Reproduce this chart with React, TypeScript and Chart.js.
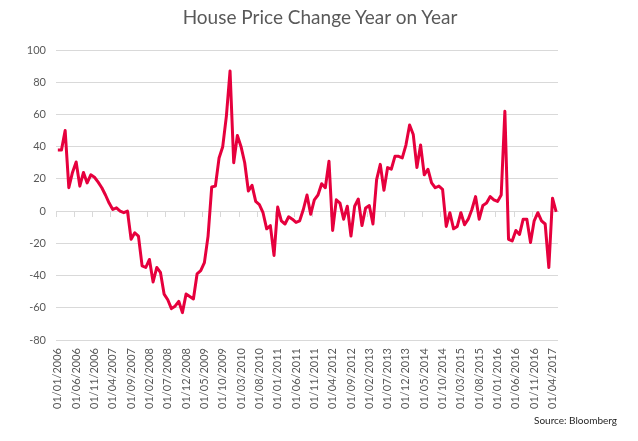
import React, { useEffect, useRef } from 'react';
import { Chart, registerables } from 'chart.js';

Chart.register(...registerables);

const chartTitle = 'House Price Change Year on Year';
const sourceNote = 'Source: Bloomberg';

// Monthly categories, 01/01/2006 .. 01/05/2017
const firstYear = 2006;
const monthCount = 137;
const categories: string[] = [];
for (let i = 0; i < monthCount; i++) {
  const m = (i % 12) + 1;
  const y = firstYear + Math.floor(i / 12);
  categories.push(`01/${String(m).padStart(2, '0')}/${y}`);
}
const labelEvery = 5;

const priceChange: number[] = [
  38, 38, 50, 14.5, 24, 30.5, 15.5, 24, 17.5, 22.5, 21, 18,
  14.5, 10, 5, 1, 2, 0, -1, 0, -17.5, -13.5, -15.5, -34,
  -35, -30, -44, -35, -38, -51.5, -55, -60.5, -59, -56, -63, -51.5,
  -53, -54.5, -39, -37, -32, -15.5, 15, 15.5, 33, 40, 59, 87,
  30, 47, 40, 30, 12.5, 16, 6, 4, -1, -11, -9, -27.5,
  2.5, -6, -8, -3.5, -5, -7, -6, 1, 10, -2, 7, 10,
  17, 14.5, 31, -12, 7, 5, -5, 3, -15.5, 3, 7.5, -9,
  2, 3.5, -8, 19.5, 29, 13, 27, 26, 34, 34, 33, 41,
  53.5, 47.5, 27, 41, 22.5, 26, 17.5, 14.5, 15.5, 13.5, -9.5, -1,
  -11, -9.5, -1, -8.5, -5, 1, 9, -5, 3.5, 5, 9, 7,
  6, 10, 62, -17.5, -18.5, -12, -14.5, -5, -5, -19.5, -6, -1,
  -6, -8, -35, 8, -0.5,
];

const yMin = -80;
const yMax = 100;
const yStep = 20;

const FONT = 'Lato, "Open Sans", sans-serif';
const GREY = '#595959';
const GRID = '#d9d9d9';
const RED = '#e6003d';

export default function App() {
  const canvasRef = useRef<HTMLCanvasElement | null>(null);

  useEffect(() => {
    if (!canvasRef.current) return;
    const chart = new Chart(canvasRef.current, {
      type: 'line',
      data: {
        labels: categories,
        datasets: [
          {
            data: priceChange,
            borderColor: RED,
            backgroundColor: RED,
            borderWidth: 3,
            pointRadius: 0,
            tension: 0,
            fill: false,
            borderJoinStyle: 'round',
          },
        ],
      },
      options: {
        animation: false,
        responsive: false,
        maintainAspectRatio: false,
        layout: { padding: { left: 0, right: 80, top: 50, bottom: 0 } },
        plugins: {
          legend: { display: false },
          tooltip: { enabled: false },
          title: { display: false },
        },
        scales: {
          x: {
            type: 'category',
            offset: true,
            grid: { display: false, drawTicks: false },
            border: { display: false },
            ticks: {
              autoSkip: false,
              minRotation: 90,
              maxRotation: 90,
              padding: 8,
              color: GREY,
              font: { family: FONT, size: 11 },
              callback: (_v: any, idx: number) => (idx % labelEvery === 0 ? categories[idx] : ''),
            },
            afterFit: (scale: any) => {
              scale.height = 101;
            },
          },
          x2: {
            type: 'category',
            position: { y: 0 } as any,
            offset: true,
            grid: {
              display: true,
              drawOnChartArea: false,
              drawTicks: true,
              tickLength: 5,
              offset: true,
              color: (ctx: any) => (ctx.index % labelEvery === 0 ? GRID : 'rgba(0,0,0,0)'),
            },
            border: { display: true, color: GRID, width: 1 },
            ticks: { display: false, autoSkip: false },
          },
          y: {
            min: yMin,
            max: yMax,
            grid: { color: GRID, drawTicks: false, lineWidth: 1 },
            border: { display: false },
            ticks: {
              stepSize: yStep,
              padding: 10,
              color: GREY,
              font: { family: FONT, size: 11 },
            },
            afterFit: (scale: any) => {
              scale.width = 56;
            },
          },
        },
      },
    });
    return () => chart.destroy();
  }, []);

  return (
    <div
      style={{
        position: 'fixed',
        left: 0,
        top: 0,
        width: 638,
        height: 441,
        background: '#ffffff',
      }}
    >
      <canvas ref={canvasRef} width={638} height={441} style={{ display: 'block' }} />
      <div
        style={{
          position: 'absolute',
          left: 0,
          width: 640,
          top: 5,
          textAlign: 'center',
          fontFamily: FONT,
          fontSize: 19,
          lineHeight: '24px',
          color: GREY,
          whiteSpace: 'nowrap',
        }}
      >
        {chartTitle}
      </div>
      <div
        style={{
          position: 'absolute',
          right: 21,
          top: 414,
          fontFamily: FONT,
          fontSize: 10,
          color: '#262626',
          whiteSpace: 'nowrap',
        }}
      >
        {sourceNote}
      </div>
    </div>
  );
}
